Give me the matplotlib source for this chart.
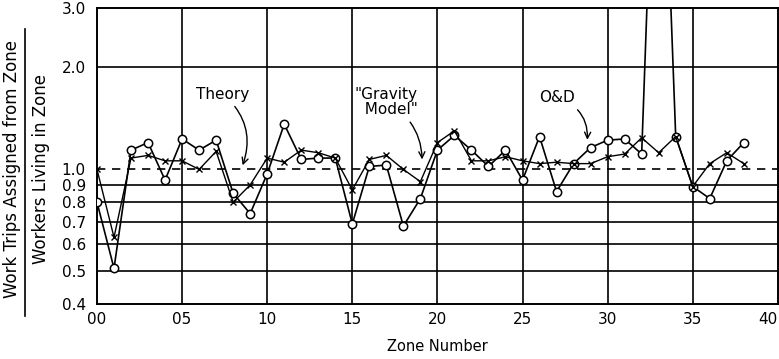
import numpy as np
import matplotlib.pyplot as plt

# zone numbers and ratios
zones = np.arange(0, 39)
od_ratio = [0.80, 0.51, 1.14, 1.20, 0.93, 1.23, 1.14, 1.22, 0.85, 0.74,
            0.97, 1.36, 1.07, 1.08, 1.08, 0.69, 1.02, 1.03, 0.68, 0.82,
            1.14, 1.26, 1.14, 1.02, 1.14, 0.93, 1.25, 0.86, 1.04, 1.16,
            1.22, 1.23, 1.11, 28.0, 1.25, 0.89, 0.82, 1.06, 1.20]
gravity_ratio = [1.00, 0.63, 1.08, 1.10, 1.06, 1.06, 1.00, 1.13, 0.80, 0.90,
                 1.08, 1.05, 1.14, 1.12, 1.08, 0.87, 1.07, 1.10, 1.00, 0.92,
                 1.20, 1.30, 1.06, 1.06, 1.09, 1.06, 1.04, 1.05, 1.04, 1.04,
                 1.09, 1.11, 1.24, 1.12, 1.25, 0.89, 1.04, 1.12, 1.04]
xticks = [0, 5, 10, 15, 20, 25, 30, 35, 40]
xticklabels = ['00', '05', '10', '15', '20', '25', '30', '35', '40']
yticks = [0.4, 0.5, 0.6, 0.7, 0.8, 0.9, 1.0, 2.0, 3.0]
yticklabels = ['0.4', '0.5', '0.6', '0.7', '0.8', '0.9', '1.0', '2.0', '3.0']

fig = plt.figure(figsize=(7.79, 3.59), dpi=100)
ax = fig.add_axes([0.1245, 0.153, 0.874, 0.825])

ax.set_yscale('log')
ax.set_xlim(0, 40)
ax.set_ylim(0.4, 3.0)

# grid
for gx in xticks[1:-1]:
    ax.axvline(gx, color='black', lw=1.2, zorder=1)
for gy in [0.5, 0.6, 0.7, 0.8, 0.9, 2.0]:
    ax.axhline(gy, color='black', lw=1.2, zorder=1)
ax.axhline(1.0, color='black', lw=1.2, ls=(0, (5, 4)), zorder=1)

ax.plot(zones, od_ratio, color='black', lw=1.2, marker='o', ms=6,
        mfc='white', mec='black', mew=1.1, zorder=3)
ax.plot(zones, gravity_ratio, color='black', lw=1.0, marker='x', ms=5,
        mew=1.0, zorder=4)

ax.set_xticks(xticks)
ax.set_xticklabels(xticklabels, fontsize=11)
ax.get_xticklabels()[-1].set_ha('right')
ax.set_yticks(yticks)
ax.set_yticklabels(yticklabels, fontsize=11)
ax.yaxis.set_minor_locator(plt.NullLocator())
ax.tick_params(axis='x', length=0, pad=6)
ax.tick_params(axis='y', length=0, pad=8)
for s in ax.spines.values():
    s.set_linewidth(1.4)

ax.set_xlabel('Zone Number', fontsize=10.5, labelpad=8)

# annotations
arrow = dict(arrowstyle='->', color='black', lw=1.0)
ax.annotate('Theory', xy=(8.5, 1.01), xytext=(7.4, 1.67), fontsize=11,
            ha='center', va='center',
            arrowprops=dict(arrow, connectionstyle='arc3,rad=-0.35'))
ax.annotate('"Gravity\n  Model"', xy=(19.1, 1.05), xytext=(17.0, 1.58),
            fontsize=11, ha='center', va='center', linespacing=1.0,
            arrowprops=dict(arrow, connectionstyle='arc3,rad=-0.3'))
ax.annotate('O&D', xy=(28.8, 1.20), xytext=(27.0, 1.63), fontsize=11,
            ha='center', va='center',
            arrowprops=dict(arrow, connectionstyle='arc3,rad=-0.4'))

# y label as a fraction
fig.text(0.016, 0.53, 'Work Trips Assigned from Zone', rotation=90,
         ha='center', va='center', fontsize=12)
fig.text(0.052, 0.53, 'Workers Living in Zone', rotation=90,
         ha='center', va='center', fontsize=12)
fig.add_artist(plt.Line2D([0.032, 0.032], [0.12, 0.92], color='black',
                          lw=1.2, transform=fig.transFigure))

fig.savefig('out.png', dpi=100)
